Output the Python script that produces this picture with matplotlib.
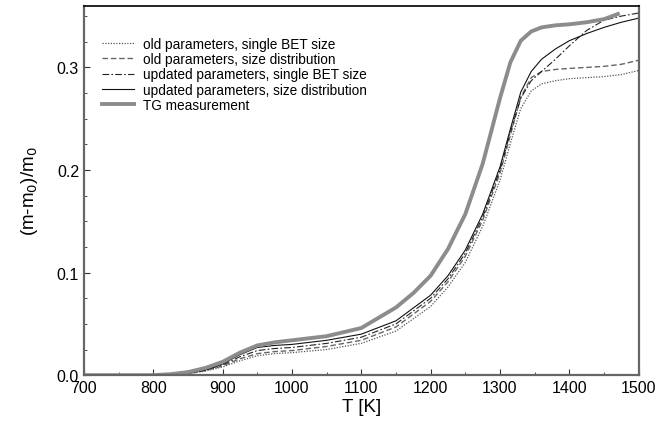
import matplotlib.pyplot as plt
from matplotlib.ticker import MultipleLocator

plt.rcParams['font.family'] = ['Liberation Sans', 'DejaVu Sans']

# temperatures [K]
T = [700, 800, 825, 850, 875, 900, 925, 950, 975, 1000, 1050, 1100, 1150, 1200, 1225,
     1250, 1275, 1300, 1315, 1330, 1345, 1360, 1380, 1400, 1425, 1450, 1475, 1500]

# relative mass gain (m-m0)/m0
old_single = [0, 0, 0.0004, 0.0015, 0.004, 0.008, 0.014, 0.019, 0.021, 0.022, 0.025, 0.031, 0.043, 0.067, 0.086,
              0.110, 0.145, 0.190, 0.226, 0.260, 0.277, 0.284, 0.287, 0.289, 0.290, 0.291, 0.293, 0.297]
old_dist = [0, 0, 0.0004, 0.0016, 0.0045, 0.009, 0.016, 0.021, 0.023, 0.024, 0.028, 0.034, 0.047, 0.072, 0.091,
            0.116, 0.151, 0.197, 0.234, 0.271, 0.290, 0.296, 0.298, 0.299, 0.300, 0.301, 0.303, 0.307]
new_single = [0, 0, 0.0005, 0.0018, 0.005, 0.010, 0.018, 0.024, 0.026, 0.027, 0.031, 0.037, 0.050, 0.075, 0.094,
              0.119, 0.154, 0.200, 0.237, 0.270, 0.287, 0.296, 0.308, 0.321, 0.336, 0.346, 0.350, 0.353]
new_dist = [0, 0, 0.0005, 0.002, 0.005, 0.011, 0.020, 0.027, 0.029, 0.030, 0.034, 0.040, 0.053, 0.078, 0.097,
            0.122, 0.157, 0.203, 0.240, 0.276, 0.296, 0.308, 0.318, 0.326, 0.333, 0.339, 0.344, 0.348]

# thermogravimetric measurement
T_tg = [700, 800, 825, 850, 875, 900, 925, 950, 975, 1000, 1050, 1100, 1150, 1175, 1200, 1225,
        1250, 1275, 1300, 1315, 1330, 1345, 1360, 1380, 1400, 1425, 1450, 1470]
tg = [0, 0, 0.001, 0.003, 0.007, 0.013, 0.022, 0.029, 0.032, 0.034, 0.038, 0.046, 0.066, 0.080, 0.097, 0.123,
      0.157, 0.206, 0.270, 0.305, 0.326, 0.335, 0.339, 0.341, 0.342, 0.344, 0.347, 0.352]

fig = plt.figure(figsize=(6.66, 4.27), dpi=100)
ax = fig.add_axes([0.126, 0.119, 0.833, 0.865])

ax.plot(T, old_single, color='#555555', lw=0.9, ls=(0, (1, 1.2)), label='old parameters, single BET size')
ax.plot(T, old_dist, color='#666666', lw=1.0, ls=(0, (4, 2)), label='old parameters, size distribution')
ax.plot(T, new_single, color='#222222', lw=0.8, ls=(0, (6, 2, 1.5, 2)), label='updated parameters, single BET size')
ax.plot(T, new_dist, color='#111111', lw=0.8, label='updated parameters, size distribution')
ax.plot(T_tg, tg, color='#8c8c8c', lw=2.8, label='TG measurement')

ax.set_xlim(700, 1500)
ax.set_ylim(0, 0.36)
ax.xaxis.set_major_locator(MultipleLocator(100))
ax.xaxis.set_minor_locator(MultipleLocator(50))
ax.yaxis.set_major_locator(MultipleLocator(0.1))
ax.yaxis.set_minor_locator(MultipleLocator(0.025))
ax.tick_params(which='both', direction='in', labelsize=11.5, color='#333333')
ax.tick_params(which='major', length=4)
ax.tick_params(which='minor', length=2.5)

for side in ['left', 'bottom', 'right']:
    ax.spines[side].set_color('#666666')
    ax.spines[side].set_linewidth(1.6)
ax.spines['top'].set_color('black')
ax.spines['top'].set_linewidth(1.2)

ax.set_xlabel('T [K]', fontsize=13.5, labelpad=2)
ax.set_ylabel('(m-m$_0$)/m$_0$', fontsize=13.5, labelpad=12)

ax.legend(loc='upper left', frameon=False, fontsize=9.8, handlelength=2.4,
          handletextpad=0.6, labelspacing=0.1, bbox_to_anchor=(0.01, 0.95))

fig.savefig('out.png', dpi=100)
